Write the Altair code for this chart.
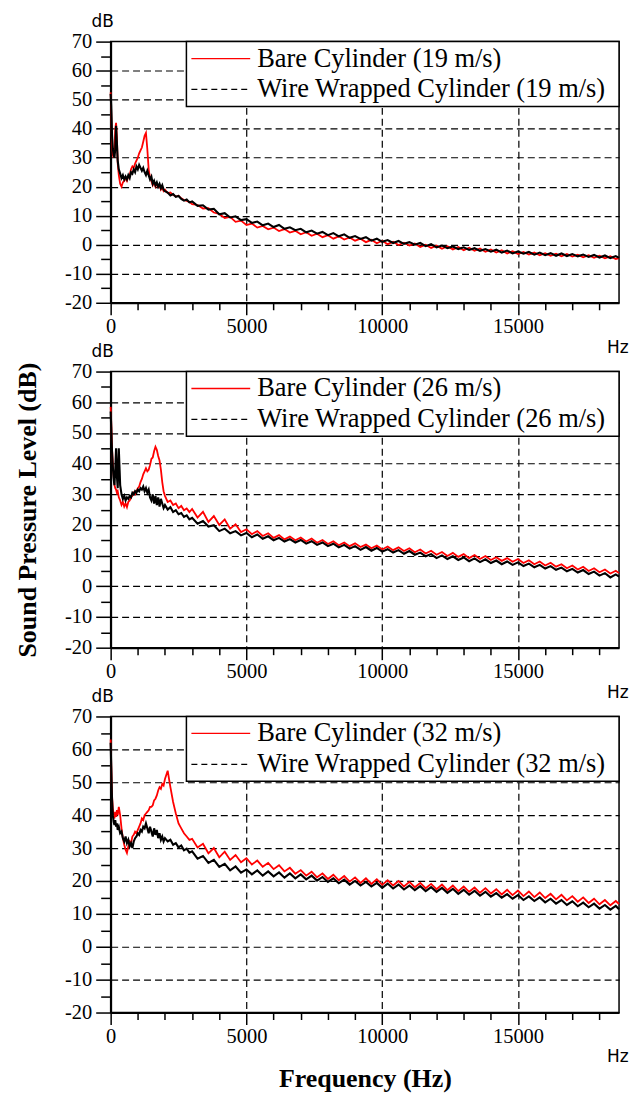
import altair as alt
import pandas as pd

# ---------------- data ----------------
SPEEDS = ["19 m/s", "26 m/s", "32 m/s"]
BARE_LABELS = ["Bare Cylinder (" + s + ")" for s in SPEEDS]
WIRE_LABELS = ["Wire Wrapped Cylinder (" + s + ")" for s in SPEEDS]

FREQ_LOW = [0, 20, 50, 80, 110, 140, 170, 200, 230, 260,
            300, 350, 400, 450, 500, 550, 600, 650, 700, 750,
            800, 850, 900, 950, 1000, 1050, 1100, 1150, 1200, 1250,
            1300, 1350, 1400, 1450, 1500, 1550, 1600, 1650, 1700, 1750,
            1800, 1850, 1900, 1950, 2000, 2100, 2200, 2300, 2400, 2500,
            2600, 2700, 2800, 2900]
FREQ_HIGH = list(range(3000, 18601, 200)) + [18720]
FREQ = FREQ_LOW + FREQ_HIGH

BARE_19 = [52.5, 46.0, 35.0, 31.0, 30.0, 33.0, 40.0, 42.0, 37.0, 28.0,
           24.0, 21.0, 20.0, 21.5, 22.0, 23.0, 22.0, 23.5, 24.0, 26.0,
           27.0, 26.5, 28.0, 29.0, 30.0, 31.5, 32.5, 33.5, 35.5, 37.5,
           38.5, 33.0, 26.0, 23.0, 22.0, 20.5, 21.5, 20.0, 21.0, 20.0,
           20.5, 19.0, 19.8, 18.5, 19.0, 17.8, 18.0, 17.2, 16.6, 16.9,
           16.0, 15.4, 15.1, 14.8,
           14.0, 13.7, 12.5, 12.6, 11.1, 10.6, 9.2, 9.6, 7.9, 8.3,
           6.8, 7.3, 5.9, 6.5, 5.3, 5.9, 4.7, 5.4, 4.2, 4.8,
           3.6, 4.3, 3.1, 3.8, 2.6, 3.3, 2.1, 2.9, 1.8, 2.5,
           1.4, 2.1, 0.9, 1.7, 0.5, 1.4, 0.2, 1.0, -0.1, 0.7,
           -0.3, 0.4, -0.8, 0.0, -1.1, -0.3, -1.4, -0.5, -1.6, -0.8,
           -1.9, -1.0, -2.1, -1.3, -2.4, -1.6, -2.7, -1.9, -3.0, -2.2,
           -3.2, -2.5, -3.4, -2.7, -3.6, -2.9, -3.8, -3.1, -4.0, -3.2,
           -4.1, -3.4, -4.3, -3.6, -4.5, -3.8, -4.7, -4.0, -4.9, -4.6]
WIRE_19 = [52.0, 48.0, 38.0, 33.0, 31.0, 30.0, 33.0, 41.0, 35.0, 29.0,
           26.0, 24.5, 23.0, 24.0, 22.5, 23.5, 22.5, 24.0, 23.0, 25.0,
           24.5, 26.0, 25.0, 27.0, 26.0, 27.5, 26.5, 25.5, 26.5, 25.0,
           24.0, 25.5, 24.0, 22.5, 23.5, 21.0, 22.0, 20.5, 21.5, 20.0,
           21.0, 19.5, 20.5, 19.0, 18.5, 18.0, 17.0, 17.5, 16.5, 16.8,
           15.8, 15.2, 15.6, 14.6,
           14.9, 13.4, 13.6, 12.1, 12.4, 10.5, 10.9, 9.4, 9.8, 8.5,
           8.8, 7.5, 8.0, 6.7, 7.3, 6.1, 6.8, 5.5, 6.0, 5.0,
           5.5, 4.3, 4.9, 3.8, 4.4, 3.3, 4.0, 2.9, 3.6, 2.4,
           3.0, 2.0, 2.6, 1.4, 2.1, 1.0, 1.6, 0.6, 1.3, 0.3,
           0.9, 0.0, 0.6, -0.5, 0.2, -0.9, -0.3, -1.2, -0.6, -1.5,
           -0.9, -1.8, -1.2, -2.1, -1.5, -2.4, -1.7, -2.7, -2.0, -3.0,
           -2.3, -3.1, -2.5, -3.4, -2.7, -3.6, -2.9, -3.8, -3.0, -3.9,
           -3.2, -4.0, -3.4, -4.2, -3.5, -4.4, -3.7, -4.6, -3.9, -4.5]

BARE_26 = [58.5, 54.0, 45.0, 40.0, 36.0, 33.0, 32.0, 31.5, 30.5, 31.0,
           29.0, 28.0, 26.5, 27.5, 26.0, 27.0, 25.8, 27.5, 28.0, 29.0,
           29.5, 30.5, 30.0, 31.0, 32.0, 32.5, 34.0, 35.0, 36.5, 37.5,
           38.5, 37.5, 38.0, 39.5, 41.5, 42.0, 44.0, 45.5, 44.5, 42.5,
           41.0, 38.0, 34.0, 31.0, 29.5, 27.5, 28.0, 26.5, 27.0, 25.5,
           26.2, 24.8, 25.4, 24.2,
           25.2, 22.4, 24.3, 21.0, 22.9, 20.0, 21.8, 18.8, 20.2, 17.7,
           18.6, 17.0, 18.0, 16.4, 17.3, 15.8, 16.7, 15.3, 16.2, 15.0,
           15.9, 14.6, 15.6, 14.2, 15.1, 13.8, 14.7, 13.4, 14.3, 13.1,
           14.0, 12.8, 13.6, 12.4, 13.3, 12.0, 13.0, 11.8, 12.7, 11.5,
           12.4, 11.1, 12.0, 10.7, 11.6, 10.3, 11.2, 9.9, 10.9, 9.6,
           10.5, 9.2, 10.2, 8.9, 9.9, 8.6, 9.5, 8.3, 9.2, 8.0,
           8.9, 7.6, 8.5, 7.2, 8.1, 6.8, 7.7, 6.4, 7.2, 5.9,
           6.8, 5.5, 6.4, 5.0, 5.9, 4.6, 5.5, 4.2, 5.1, 4.3]
WIRE_26 = [57.0, 52.0, 44.0, 39.0, 35.0, 33.0, 38.0, 45.0, 36.0, 32.0,
           45.0, 33.0, 30.0, 28.5, 29.5, 28.0, 29.0, 28.5, 29.5, 29.0,
           30.5, 30.0, 31.0, 30.5, 31.5, 31.0, 32.0, 31.5, 32.5, 31.0,
           32.0, 30.5, 31.5, 29.0, 28.0, 30.0, 27.0, 29.5, 26.5, 29.0,
           26.0, 28.5, 27.0, 25.5, 26.5, 25.0, 25.8, 24.2, 24.8, 23.5,
           23.9, 22.6, 23.1, 21.8,
           22.3, 20.4, 21.3, 19.5, 19.9, 18.0, 18.8, 17.3, 18.0, 16.6,
           17.4, 16.0, 16.9, 15.5, 16.3, 15.0, 15.8, 14.6, 15.4, 14.3,
           15.1, 13.9, 14.7, 13.5, 14.3, 13.1, 13.9, 12.7, 13.5, 12.3,
           13.1, 11.9, 12.8, 11.6, 12.5, 11.3, 12.1, 11.0, 11.8, 10.6,
           11.5, 10.3, 11.0, 9.8, 10.5, 9.2, 10.1, 8.9, 9.8, 8.6,
           9.4, 8.2, 9.1, 7.9, 8.8, 7.6, 8.4, 7.2, 8.1, 7.0,
           7.8, 6.6, 7.4, 6.2, 7.0, 5.8, 6.6, 5.4, 6.1, 4.9,
           5.7, 4.5, 5.3, 4.0, 4.8, 3.5, 4.3, 2.9, 3.9, 3.2]

BARE_32 = [63.0, 56.0, 46.0, 42.0, 40.0, 39.0, 41.0, 39.5, 41.5, 40.0,
           42.5, 40.0, 36.0, 33.0, 31.0, 29.5, 28.5, 30.5, 32.0, 31.5,
           33.5, 34.0, 35.0, 34.5, 35.5, 36.5, 37.5, 39.0, 38.5, 40.0,
           40.5, 41.0, 41.5, 42.5, 42.5, 43.0, 44.5, 45.0, 46.0, 47.5,
           48.5, 48.0, 49.5, 49.0, 51.0, 53.5, 48.5, 44.0, 40.5, 37.5,
           36.0, 34.5, 33.5, 32.5,
           32.8, 30.2, 31.3, 28.4, 30.0, 27.2, 28.9, 26.4, 27.9, 25.7,
           26.9, 25.0, 26.2, 24.3, 25.5, 23.6, 24.8, 22.9, 24.0, 22.2,
           23.3, 21.6, 22.8, 21.1, 22.3, 20.6, 21.9, 20.2, 21.5, 19.8,
           21.1, 19.4, 20.8, 19.1, 20.5, 18.8, 20.2, 18.6, 20.0, 18.3,
           19.7, 18.1, 19.4, 17.8, 19.1, 17.5, 18.9, 17.2, 18.6, 16.9,
           18.3, 16.7, 18.0, 16.4, 17.8, 16.2, 17.5, 15.9, 17.3, 15.7,
           17.1, 15.4, 16.8, 15.1, 16.5, 14.8, 16.1, 14.4, 15.8, 14.1,
           15.4, 13.7, 15.0, 13.3, 14.6, 12.9, 14.2, 12.6, 13.9, 13.0]
WIRE_32 = [62.0, 55.0, 45.0, 40.0, 38.0, 37.0, 38.5, 36.5, 37.5, 35.5,
           36.5, 34.5, 35.0, 33.0, 32.0, 33.5, 31.5, 32.5, 30.5, 31.5,
           30.0, 32.0, 33.0, 33.5, 34.5, 34.0, 35.5, 35.0, 36.5, 36.0,
           37.5, 36.0, 34.5, 36.5, 35.0, 33.5, 36.0, 34.0, 35.5, 33.0,
           34.5, 32.5, 33.5, 32.0, 33.0, 32.0, 32.5, 31.0, 31.5, 30.2,
           30.8, 29.3, 29.8, 28.6,
           29.0, 26.8, 27.6, 25.5, 26.4, 24.3, 25.2, 23.2, 24.4, 22.5,
           23.5, 22.0, 23.2, 21.6, 22.9, 21.4, 22.6, 21.0, 22.3, 20.8,
           22.0, 20.5, 21.6, 20.1, 21.2, 19.7, 20.8, 19.3, 20.4, 18.9,
           20.0, 18.6, 19.7, 18.3, 19.4, 17.9, 19.2, 17.7, 18.9, 17.4,
           18.6, 17.2, 18.4, 16.9, 18.1, 16.7, 17.9, 16.4, 17.6, 16.1,
           17.3, 15.8, 17.0, 15.5, 16.7, 15.2, 16.3, 14.9, 16.0, 14.6,
           15.7, 14.2, 15.3, 13.9, 15.0, 13.5, 14.6, 13.1, 14.2, 12.7,
           13.8, 12.3, 13.4, 12.0, 13.1, 11.6, 12.7, 11.3, 12.4, 11.4]

BARE = [BARE_19, BARE_26, BARE_32]
WIRE = [WIRE_19, WIRE_26, WIRE_32]

X_TICKS = list(range(0, 18001, 1000))
Y_TICKS = list(range(-20, 71, 5))
X_DOMAIN = [0, 18720]
Y_DOMAIN = [-20, 70]

# ---------------- layout / style ----------------
W = 510
HEIGHTS = [262, 277, 297]
SERIF = "Liberation Serif"
SANS = "DejaVu Sans"
RED = "#ff0000"
BLACK = "#000000"
LEG_W = 434
LEG_H = 65
LEG_FONT = 26.5


def make_panel(i):
    h = HEIGHTS[i]
    df = pd.DataFrame({"Frequency": FREQ, "Bare": BARE[i], "Wire": WIRE[i]})

    common = dict(
        labelFont=SERIF,
        labelFontSize=20.5,
        labelColor="black",
        labelFlush=False,
        labelOverlap=False,
        grid=True,
        gridColor="black",
        gridDash=[7, 4],
        gridWidth=1.2,
        domainColor="black",
        domainWidth=2,
        tickColor="black",
        tickWidth=1.5,
        titleFont=SERIF,
        titleFontSize=26,
        titleFontWeight="bold",
        titleColor="black",
    )
    x_axis = alt.Axis(
        values=X_TICKS,
        labelExpr="datum.value % 5000 === 0 ? '' + datum.value : ''",
        tickSize={"condition": {"test": "datum.value % 5000 === 0", "value": 12}, "value": 7},
        gridOpacity={"condition": {"test": "datum.value % 5000 === 0 && datum.value > 0", "value": 1}, "value": 0},
        labelPadding=2,
        title="Frequency (Hz)" if i == 2 else None,
        titleY=74,
        titleBaseline="alphabetic",
        **common,
    )
    y_axis = alt.Axis(
        values=Y_TICKS,
        labelExpr="datum.value % 10 === 0 ? '' + datum.value : ''",
        tickSize={"condition": {"test": "datum.value % 10 === 0", "value": 15}, "value": 10},
        gridOpacity={"condition": {"test": "datum.value % 10 === 0 && datum.value > -20 && datum.value < 70", "value": 1}, "value": 0},
        labelPadding=4,
        title="Sound Pressure Level (dB)" if i == 1 else None,
        titleX=-75,
        titleY=h / 2,
        titleAngle=270,
        titleBaseline="alphabetic",
        titleAlign="center",
        **common,
    )
    x_enc = alt.X("Frequency:Q", scale=alt.Scale(domain=X_DOMAIN, nice=False, zero=False), axis=x_axis)

    bare_line = alt.Chart(df).mark_line(color=RED, strokeWidth=1.8).encode(
        x=x_enc,
        y=alt.Y("Bare:Q", scale=alt.Scale(domain=Y_DOMAIN, nice=False), axis=y_axis),
    )
    wire_line = alt.Chart(df).mark_line(color=BLACK, strokeWidth=2.1).encode(
        x=x_enc,
        y=alt.Y("Wire:Q", scale=alt.Scale(domain=Y_DOMAIN, nice=False), axis=y_axis),
    )

    leg_df = pd.DataFrame({"bare": [BARE_LABELS[i]], "wire": [WIRE_LABELS[i]]})
    lx = W - LEG_W
    box = alt.Chart(leg_df).mark_rect(fill="white", stroke="black", strokeWidth=1.5).encode(
        x=alt.value(lx), x2=alt.value(W), y=alt.value(0), y2=alt.value(LEG_H)
    )
    sym_bare = alt.Chart(leg_df).mark_rule(color=RED, strokeWidth=1.3).encode(
        x=alt.value(lx + 5), x2=alt.value(lx + 64), y=alt.value(17)
    )
    sym_wire = alt.Chart(leg_df).mark_rule(color=BLACK, strokeWidth=1.3, strokeDash=[6, 4]).encode(
        x=alt.value(lx + 5), x2=alt.value(lx + 64), y=alt.value(48)
    )
    txt_bare = alt.Chart(leg_df).mark_text(
        font=SERIF, fontSize=LEG_FONT, align="left", baseline="middle", color="black"
    ).encode(x=alt.value(lx + 71), y=alt.value(17), text="bare:N")
    txt_wire = alt.Chart(leg_df).mark_text(
        font=SERIF, fontSize=LEG_FONT, align="left", baseline="middle", color="black"
    ).encode(x=alt.value(lx + 71), y=alt.value(48), text="wire:N")

    unit_db = alt.Chart(leg_df).mark_text(
        font=SANS, fontSize=17, align="center", baseline="middle", color="black"
    ).encode(x=alt.value(-8), y=alt.value(-20), text=alt.value("dB"))
    unit_hz = alt.Chart(leg_df).mark_text(
        font=SANS, fontSize=17, align="left", baseline="middle", color="black"
    ).encode(x=alt.value(W - 12), y=alt.value(h + 45), text=alt.value("Hz"))

    return alt.layer(
        bare_line, wire_line, box, sym_bare, sym_wire, txt_bare, txt_wire, unit_db, unit_hz
    ).properties(width=W, height=h)


panels = [make_panel(i) for i in range(3)]

chart = (
    alt.vconcat(*panels, spacing=69, bounds="flush")
    .properties(padding={"left": 14, "top": 10, "right": 2, "bottom": 4})
    .configure_view(stroke="black", strokeWidth=1.5)
)

chart.save("out.html", embed_options={"renderer": "svg", "actions": False})
